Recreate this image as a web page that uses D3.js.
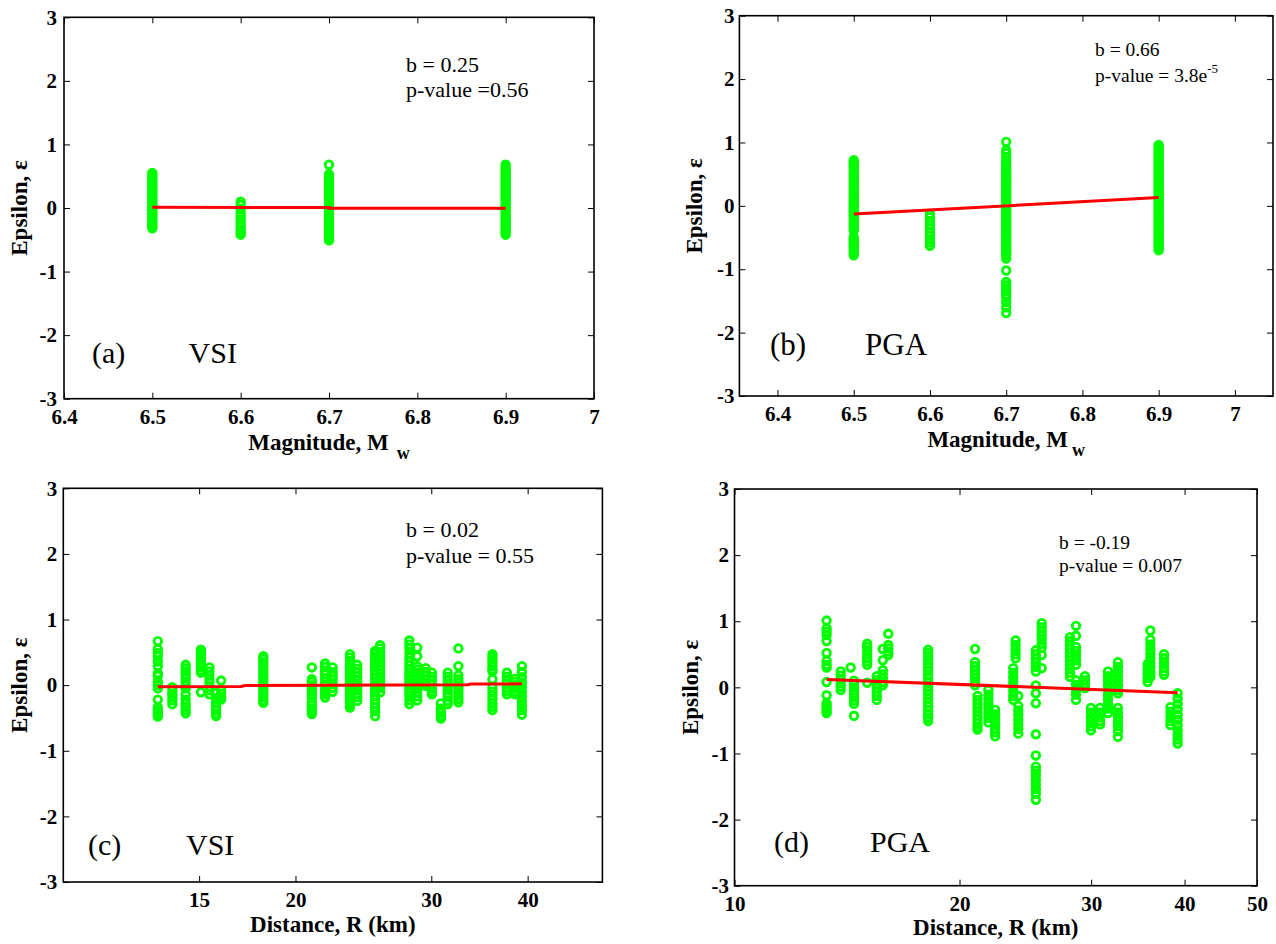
<!DOCTYPE html>
<html><head><meta charset="utf-8">
<script src="https://cdn.jsdelivr.net/npm/d3@7"></script>
<style>
body{margin:0;background:#fff}
svg{display:block}
text{font-family:"Liberation Serif","Times New Roman",serif;fill:#000}
</style>
</head><body>
<svg id="chart" width="1276" height="944"></svg>
<script>
// ---------------- DATA ----------------
const magCategories = [6.5, 6.6, 6.7, 6.9];
const magTicks = [6.4, 6.5, 6.6, 6.7, 6.8, 6.9, 7];
const epsTicks = [-3, -2, -1, 0, 1, 2, 3];
const distTicksC = [15, 20, 30, 40];
const distTicksD = [10, 20, 30, 40, 50];

// (a) VSI residuals vs magnitude
const vsiMagEps = [
  [0.55,0.52,0.49,0.46,0.43,0.40,0.37,0.34,0.31,0.28,0.25,0.22,0.19,0.16,0.13,0.10,0.07,0.04,0.01,-0.02,-0.05,-0.08,-0.11,-0.14,-0.17,-0.20,-0.23,-0.26,-0.29,-0.32],
  [0.10,0.05,-0.02,-0.08,-0.13,-0.18,-0.24,-0.29,-0.34,-0.38,-0.42],
  [0.68,0.53,0.50,0.47,0.44,0.40,0.37,0.33,0.30,0.27,0.23,0.20,0.17,0.14,0.10,0.07,0.04,0.01,-0.03,-0.06,-0.09,-0.13,-0.16,-0.19,-0.23,-0.26,-0.29,-0.33,-0.36,-0.39,-0.42,-0.45,-0.48,-0.51],
  [0.68,0.65,0.62,0.59,0.56,0.52,0.49,0.46,0.43,0.40,0.36,0.33,0.30,0.27,0.24,0.20,0.17,0.14,0.11,0.08,0.04,0.01,-0.02,-0.05,-0.08,-0.12,-0.15,-0.18,-0.21,-0.24,-0.28,-0.31,-0.34,-0.37,-0.40,-0.42]
];
const vsiMagFitX = [6.5, 6.7, 6.7, 6.9];
const vsiMagFitY = [0.012, 0.008, -0.004, -0.004];

// (b) PGA residuals vs magnitude
const pgaMagEps = [
  [0.72,0.69,0.66,0.63,0.60,0.56,0.53,0.50,0.47,0.44,0.40,0.37,0.34,0.31,0.28,0.24,0.21,0.18,0.15,0.12,0.08,0.05,0.02,-0.01,-0.04,-0.08,-0.11,-0.14,-0.17,-0.20,-0.24,-0.27,-0.30,-0.33,-0.36,-0.39,-0.49,-0.52,-0.55,-0.58,-0.61,-0.64,-0.67,-0.70,-0.74,-0.78],
  [-0.13,-0.18,-0.24,-0.30,-0.36,-0.42,-0.47,-0.53,-0.58,-0.63],
  [1.01,0.88,0.83,0.77,0.71,0.66,0.62,0.59,0.56,0.53,0.50,0.46,0.43,0.40,0.37,0.34,0.30,0.27,0.24,0.21,0.18,0.14,0.11,0.08,0.05,0.02,-0.02,-0.05,-0.08,-0.11,-0.14,-0.18,-0.21,-0.24,-0.27,-0.30,-0.34,-0.37,-0.40,-0.43,-0.46,-0.50,-0.53,-0.56,-0.59,-0.62,-0.66,-0.69,-0.72,-0.75,-0.78,-0.83,-1.02,-1.20,-1.25,-1.30,-1.35,-1.40,-1.44,-1.52,-1.60,-1.69],
  [0.96,0.93,0.90,0.87,0.84,0.80,0.77,0.74,0.71,0.68,0.64,0.61,0.58,0.55,0.52,0.48,0.45,0.42,0.39,0.36,0.32,0.29,0.26,0.23,0.20,0.16,0.13,0.10,0.07,0.04,0.00,-0.03,-0.06,-0.09,-0.12,-0.16,-0.19,-0.22,-0.25,-0.28,-0.32,-0.35,-0.38,-0.41,-0.44,-0.48,-0.51,-0.54,-0.57,-0.60,-0.64,-0.67,-0.70]
];
const pgaMagFitX = [6.5, 6.9];
const pgaMagFitY = [-0.13, 0.13];

// (c) VSI residuals vs distance (km)
const vsiDist = [13.26,13.85,14.41,15.08,15.47,15.78,16.02,18.17,21.0,21.85,22.35,23.53,24.05,25.37,25.75,28.1,28.77,29.5,30.05,30.87,31.51,32.53,36.01,37.59,38.54,39.32];
const vsiDistEps = [
  [0.67,0.55,0.49,0.44,0.36,0.29,0.18,0.14,0.05,0.0,-0.05,-0.22,-0.34,-0.38,-0.42,-0.45,-0.48],
  [-0.03,-0.08,-0.13,-0.18,-0.23,-0.29],
  [0.31,0.26,0.21,0.16,0.11,0.05,0.0,-0.05,-0.14,-0.22,-0.28,-0.33,-0.38,-0.43],
  [0.54,0.50,0.46,0.42,0.38,0.33,0.27,0.22,0.19,-0.11],
  [0.27,0.21,0.15,0.09,0.04,-0.02,-0.08,-0.14],
  [-0.12,-0.20,-0.27,-0.33,-0.38,-0.43,-0.47],
  [0.07,-0.08,-0.13,-0.18,-0.22],
  [0.44,0.40,0.35,0.31,0.26,0.21,0.17,0.12,0.07,0.02,-0.03,-0.08,-0.13,-0.18,-0.23,-0.27],
  [0.27,0.09,0.05,0.0,-0.05,-0.10,-0.15,-0.20,-0.26,-0.31,-0.36,-0.40,-0.44],
  [0.33,0.28,0.22,0.17,0.11,0.05,0.0,-0.05,-0.10,-0.14,-0.19],
  [0.27,0.20,0.14,0.08,0.02,-0.04,-0.10],
  [0.47,0.42,0.37,0.32,0.27,0.22,0.18,0.14,0.10,0.06,0.02,-0.02,-0.06,-0.10,-0.14,-0.18,-0.22,-0.26,-0.30,-0.34],
  [0.31,0.25,0.19,0.13,0.07,0.02,-0.03,-0.08,-0.13,-0.18,-0.24],
  [0.52,0.48,0.43,0.38,0.33,0.28,0.22,0.16,0.10,0.05,0.0,-0.05,-0.10,-0.16,-0.22,-0.28,-0.34,-0.40,-0.47],
  [0.61,0.56,0.50,0.45,0.40,0.35,0.30,0.24,0.18,0.12,0.07,0.02,-0.04,-0.11],
  [0.68,0.62,0.56,0.48,0.42,0.36,0.30,0.24,0.19,0.14,0.09,0.04,0.0,-0.05,-0.10,-0.16,-0.23,-0.29],
  [0.57,0.44,0.29,0.24,0.19,0.14,0.09,0.04,-0.01,-0.06,-0.11,-0.17,-0.23],
  [0.26,0.20,0.14,0.08,0.03,-0.01],
  [0.19,0.13,0.07,0.01,-0.05,-0.10,-0.14],
  [-0.28,-0.36,-0.42,-0.47,-0.51],
  [0.19,0.13,0.07,0.02,-0.03,-0.08,-0.13,-0.18,-0.24,-0.29],
  [0.56,0.29,0.15,0.09,0.04,-0.01,-0.06,-0.11,-0.16,-0.21,-0.26],
  [0.47,0.43,0.39,0.34,0.29,0.24,0.21,0.09,-0.04,-0.10,-0.16,-0.22,-0.28,-0.33,-0.38],
  [0.19,0.13,0.07,0.02,-0.04,-0.09,-0.14],
  [0.10,0.05,0.0,-0.05,-0.10,-0.14],
  [0.29,0.20,0.12,0.04,-0.03,-0.10,-0.17,-0.24,-0.31,-0.38,-0.45]
];
const vsiDistFitX = [13.26, 17.0, 17.2, 33.5, 33.7, 39.32];
const vsiDistFitY = [-0.025, -0.02, -0.006, 0.006, 0.016, 0.02];

// (d) PGA residuals vs distance (km)
const pgaDist = [13.28,13.87,14.3,14.45,15.05,15.5,15.79,16.06,18.16,20.98,21.14,21.86,22.32,23.6,23.77,23.97,25.3,25.76,28.1,28.63,29.43,29.98,30.83,31.6,32.58,35.7,36.0,37.55,38.3,39.16];
const pgaDistEps = [
  [1.01,0.89,0.84,0.79,0.70,0.52,0.40,0.34,0.30,0.08,-0.12,-0.24,-0.28,-0.32,-0.36,-0.39],
  [0.24,0.18,0.12,0.06,0.01,-0.04],
  [0.30],
  [0.10,0.05,0.0,-0.05,-0.10,-0.15,-0.20,-0.25,-0.43],
  [0.66,0.61,0.56,0.50,0.44,0.39,0.34,0.07],
  [0.17,0.11,0.05,-0.01,-0.07,-0.13,-0.19],
  [0.58,0.41,0.26,0.20,0.14,0.08,0.03],
  [0.81,0.64,0.59,0.54,0.49],
  [0.57,0.52,0.47,0.42,0.36,0.30,0.25,0.19,0.13,0.07,0.01,-0.05,-0.11,-0.17,-0.23,-0.29,-0.35,-0.41,-0.46,-0.51],
  [0.58,0.38,0.32,0.26,0.20,0.14,0.08,0.03],
  [-0.13,-0.19,-0.25,-0.31,-0.37,-0.43,-0.49,-0.55,-0.60,-0.64],
  [-0.04,-0.11,-0.18,-0.25,-0.32,-0.39,-0.46,-0.53],
  [-0.34,-0.41,-0.48,-0.55,-0.62,-0.68,-0.74],
  [0.29,0.22,0.15,0.08,0.01,-0.06,-0.13,-0.19],
  [0.71,0.64,0.57,0.50,0.44],
  [-0.13,-0.28,-0.35,-0.42,-0.49,-0.56,-0.63,-0.70],
  [0.56,0.50,0.44,0.38,0.31,0.24,0.03,-0.09,-0.24,-0.71,-1.03,-1.20,-1.26,-1.33,-1.40,-1.47,-1.54,-1.61,-1.70],
  [0.97,0.91,0.85,0.79,0.73,0.66,0.60,0.49,0.29],
  [0.76,0.70,0.64,0.58,0.52,0.46,0.40,0.34,0.28,0.22,0.16],
  [0.93,0.78,0.61,0.55,0.48,0.41,0.34,0.11,0.04,-0.04,-0.11,-0.19],
  [0.17,0.11,0.05,-0.01],
  [-0.31,-0.38,-0.45,-0.52,-0.59,-0.65],
  [-0.31,-0.38,-0.45,-0.51,-0.56],
  [0.24,0.17,0.10,0.03,-0.04,-0.11,-0.18,-0.25,-0.32,-0.39],
  [0.38,0.31,0.24,0.17,0.10,0.03,-0.04,-0.09,-0.31,-0.38,-0.45,-0.52,-0.59,-0.66,-0.75],
  [0.35,0.28,0.21,0.14,0.08],
  [0.86,0.72,0.65,0.58,0.51,0.44,0.37,0.30,0.23,0.16],
  [0.50,0.44,0.37,0.30,0.24,0.19],
  [-0.30,-0.37,-0.44,-0.51,-0.57],
  [-0.09,-0.17,-0.25,-0.33,-0.41,-0.49,-0.57,-0.65,-0.72,-0.79,-0.85]
];
const pgaDistFitX = [13.28, 39.16];
const pgaDistFitY = [0.12, -0.08];

const panelTags = ["(a)", "(b)", "(c)", "(d)"];
const panelMeasures = ["VSI", "PGA", "VSI", "PGA"];
const statB = ["b = 0.25", "b = 0.66", "b = 0.02", "b = -0.19"];
const statP = ["p-value =0.56", "p-value = 3.8e", "p-value = 0.55", "p-value = 0.007"];
const statPSup = ["", "-5", "", ""];
const yTitle = "Epsilon, \u03b5";
const xTitleMag = "Magnitude, M";
const xTitleSub = "w";
const xTitleDist = "Distance, R (km)";

// ---------------- LAYOUT ----------------
const panels = [
  {left:64, top:17.3, right:594, bottom:398.7, xType:"lin", xDomain:[6.4,7.0], xTicks:magTicks,
   cols:magCategories, eps:vsiMagEps, fitX:vsiMagFitX, fitY:vsiMagFitY,
   yPad:7, yTitleX:26.6, xTitleY:450, subDx:8, statX:406, statY1:72, statY2:97, statSize:22,
   tagX:92, msrX:188.6, tagY:362.7, tagSize:30, xTitle:"mag"},
  {left:739.4, top:15.7, right:1273, bottom:396, xType:"lin", xDomain:[6.35,7.05], xTicks:magTicks,
   cols:magCategories, eps:pgaMagEps, fitX:pgaMagFitX, fitY:pgaMagFitY,
   yPad:5, yTitleX:702, xTitleY:447, subDx:4, statX:1095, statY1:56, statY2:82, statSize:19.5,
   tagX:770, msrX:865, tagY:355, tagSize:31, xTitle:"mag"},
  {left:63.3, top:488.3, right:602.4, bottom:882, xType:"log", xDomain:[10,50], xTicks:distTicksC,
   cols:vsiDist, eps:vsiDistEps, fitX:vsiDistFitX, fitY:vsiDistFitY,
   yPad:6, yTitleX:26.6, xTitleY:931.7, statX:406, statY1:536.7, statY2:562.7, statSize:22,
   tagX:88, msrX:186, tagY:855, tagSize:30, xTitle:"dist"},
  {left:734.5, top:489, right:1257, bottom:885.7, xType:"log", xDomain:[10,50], xTicks:distTicksD,
   cols:pgaDist, eps:pgaDistEps, fitX:pgaDistFitX, fitY:pgaDistFitY,
   yPad:5.5, yTitleX:697.8, xTitleY:935, statX:1059, statY1:549, statY2:571.7, statSize:19.5,
   tagX:774, msrX:870, tagY:851.7, tagSize:30, xTitle:"dist"}
];

const svg = d3.select("#chart");
const TICK = 6;

panels.forEach((p, i) => {
  const x = (p.xType === "log" ? d3.scaleLog() : d3.scaleLinear())
      .domain(p.xDomain).range([p.left, p.right]);
  const y = d3.scaleLinear().domain([-3, 3]).range([p.bottom, p.top]);
  const g = svg.append("g");

  const fmt = d => String(+(+d).toFixed(2));   // plain hyphen-minus like the source

  const ab = g.append("g").attr("transform", `translate(0,${p.bottom})`)
    .call(d3.axisBottom(x).tickValues(p.xTicks).tickFormat(fmt).tickSize(-TICK).tickSizeOuter(0).tickPadding(10.5));
  const at = g.append("g").attr("transform", `translate(0,${p.top})`)
    .call(d3.axisTop(x).tickValues(p.xTicks).tickFormat("").tickSize(-TICK).tickSizeOuter(0));
  const al = g.append("g").attr("transform", `translate(${p.left},0)`)
    .call(d3.axisLeft(y).tickValues(epsTicks).tickFormat(fmt).tickSize(-TICK).tickSizeOuter(0).tickPadding(p.yPad));
  const ar = g.append("g").attr("transform", `translate(${p.right},0)`)
    .call(d3.axisRight(y).tickValues(epsTicks).tickFormat("").tickSize(-TICK).tickSizeOuter(0));

  [ab, at, al, ar].forEach(a => {
    a.select(".domain").remove();
    a.selectAll(".tick line").attr("stroke", "#000").attr("stroke-width", 1);
    a.selectAll(".tick text").attr("font-family", "Liberation Serif")
      .attr("font-weight", "bold").attr("font-size", 21).attr("fill", "#000");
  });

  g.append("rect").attr("x", p.left).attr("y", p.top)
    .attr("width", p.right - p.left).attr("height", p.bottom - p.top)
    .attr("fill", "none").attr("stroke", "#000").attr("stroke-width", 1.6);

  const pts = [];
  p.cols.forEach((c, k) => p.eps[k].forEach(e => pts.push([c, e])));
  g.append("g").selectAll("circle").data(pts).join("circle")
    .attr("cx", d => x(d[0])).attr("cy", d => y(d[1])).attr("r", 3.8)
    .attr("fill", "none").attr("stroke", "#00ff00").attr("stroke-width", 2.8);

  const fit = p.fitX.map((v, k) => [v, p.fitY[k]]);
  g.append("path").datum(fit)
    .attr("d", d3.line().x(d => x(d[0])).y(d => y(d[1])))
    .attr("fill", "none").attr("stroke", "#ff0000").attr("stroke-width", 3);

  g.append("text").attr("transform", `translate(${p.yTitleX},${(p.top + p.bottom) / 2}) rotate(-90)`)
    .attr("text-anchor", "middle").attr("font-weight", "bold").attr("font-size", 23).text(yTitle);

  const xt = g.append("text").attr("x", (p.left + p.right) / 2).attr("y", p.xTitleY)
    .attr("text-anchor", "middle").attr("font-weight", "bold").attr("font-size", 23);
  if (p.xTitle === "mag") {
    xt.append("tspan").text(xTitleMag);
    xt.append("tspan").attr("dx", p.subDx).attr("dy", 9).attr("font-size", 18).text(xTitleSub);
  } else {
    xt.text(xTitleDist);
  }

  g.append("text").attr("x", p.statX).attr("y", p.statY1).attr("font-size", p.statSize).text(statB[i]);
  const sp = g.append("text").attr("x", p.statX).attr("y", p.statY2).attr("font-size", p.statSize);
  sp.append("tspan").text(statP[i]);
  if (statPSup[i]) sp.append("tspan").attr("dy", -9).attr("font-size", 13).text(statPSup[i]);

  g.append("text").attr("x", p.tagX).attr("y", p.tagY).attr("font-size", p.tagSize).text(panelTags[i]);
  g.append("text").attr("x", p.msrX).attr("y", p.tagY).attr("font-size", p.tagSize).text(panelMeasures[i]);
});
</script>
</body></html>
